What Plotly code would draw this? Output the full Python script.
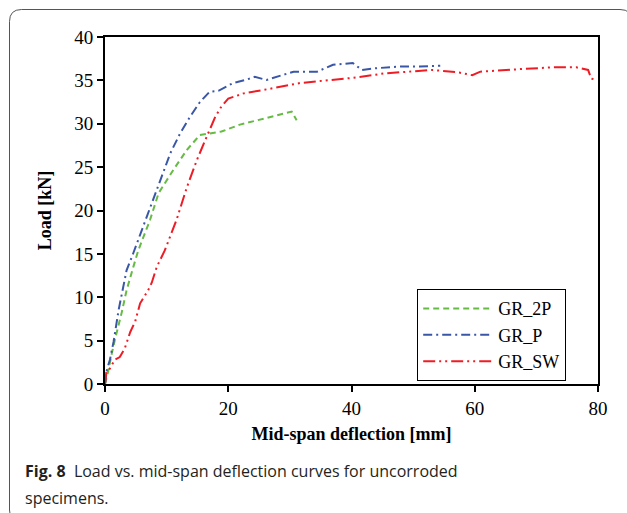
import plotly.graph_objects as go

# GR_2P
x_2p = [0, 0.5, 1.1, 1.6, 2.7, 3.5, 4.6, 5.4, 7.3, 8.7, 11.1, 13.3, 15.4, 17.3, 18.9, 21.9, 25.2, 28.4, 30.3, 31.1]
y_2p = [0, 1.4, 3.5, 5.1, 8.2, 10.8, 13.5, 15.4, 18.9, 22.0, 24.7, 27.0, 28.7, 28.9, 29.1, 29.9, 30.5, 31.0, 31.4, 30.4]
# GR_P
x_p = [0, 0.3, 0.8, 1.4, 2.2, 2.7, 3.5, 4.6, 6.8, 8.1, 9.2, 10.6, 12.2, 13.8, 15.4, 17.0, 18.4, 20.8, 23.0,
       24.3, 26.2, 30.6, 34.4, 37.0, 40.2, 41.7, 44.0, 47.9, 51.1, 54.4]
y_p = [0, 1.6, 2.8, 4.9, 8.5, 10.3, 13.1, 15.1, 19.3, 21.6, 23.9, 26.6, 28.9, 30.8, 32.5, 33.7, 33.8, 34.7, 35.1,
       35.4, 35.05, 36.0, 36.0, 36.8, 37.0, 36.2, 36.4, 36.6, 36.6, 36.7]
# GR_SW
x_sw = [0, 0.2, 0.5, 1.1, 1.6, 2.4, 3.2, 4.1, 4.9, 5.7, 7.0, 7.6, 8.4, 9.7, 11.6, 13.3, 14.9, 16.5, 17.9, 18.9,
        20.0, 22.5, 24.6, 27.3, 31.7, 37.1, 40.3, 45.3, 49.2, 53.1, 56.3, 57.5, 59.6, 60.9, 67.4, 72.6, 76.5,
        78.4, 78.9, 79.7]
y_sw = [0, 1.3, 1.4, 2.2, 2.8, 3.1, 4.1, 6.0, 7.2, 9.3, 10.8, 11.7, 13.5, 15.4, 18.9, 22.7, 25.8, 28.5, 30.8, 32.0,
        32.9, 33.5, 33.8, 34.1, 34.7, 35.1, 35.3, 35.8, 36.0, 36.2, 36.0, 35.9, 35.6, 36.0, 36.3, 36.5, 36.5,
        36.2, 35.2, 35.1]

x_ticks = [0, 20, 40, 60, 80]
y_ticks = [0, 5, 10, 15, 20, 25, 30, 35, 40]

W, H = 627, 513
L, R, T, B = 105, 29, 37, 129
pw, ph = W - L - R, H - T - B

def px(x):
    return (x - L) / pw

def py(y):
    return (H - B - y) / ph

fig = go.Figure()
fig.add_trace(go.Scatter(x=x_2p, y=y_2p, mode="lines", name="GR_2P",
                         line=dict(color="#66bb44", width=2, dash="6px,4px")))
fig.add_trace(go.Scatter(x=x_p, y=y_p, mode="lines", name="GR_P",
                         line=dict(color="#3a57a7", width=2, dash="9px,4px,2px,4px")))
fig.add_trace(go.Scatter(x=x_sw, y=y_sw, mode="lines", name="GR_SW",
                         line=dict(color="#ee1c25", width=2, dash="12px,4px,2px,4px,2px,4px")))

serif = "Liberation Serif, Times New Roman, serif"
axis_common = dict(showline=True, linecolor="black", linewidth=2, mirror=True,
                   ticks="outside", ticklen=6, tickwidth=1.5, tickcolor="black",
                   showgrid=False, zeroline=False,
                   tickfont=dict(family=serif, size=19, color="black"))

fig.update_layout(
    width=W, height=H,
    margin=dict(l=L, r=R, t=T, b=B),
    paper_bgcolor="white", plot_bgcolor="white",
    xaxis=dict(range=[0, 80], tickvals=x_ticks, **axis_common,
               title=dict(text="<b>Mid-span deflection [mm]</b>", font=dict(family=serif, size=18, color="black"),
                          standoff=10)),
    yaxis=dict(range=[0, 40], tickvals=y_ticks, **axis_common,
               title=dict(text="<b>Load [kN]</b>", font=dict(family=serif, size=18, color="black"),
                          standoff=18)),
    legend=dict(x=px(417), y=py(289), xanchor="left", yanchor="top",
                bordercolor="black", borderwidth=1.2, bgcolor="white",
                font=dict(family=serif, size=18, color="black"),
                tracegroupgap=0, itemwidth=70),
    showlegend=True,
)

# outer rounded frame
x0, y0, x1, y1, r = 9.5, 9.5, 632, 522, 12
path = (f"M {px(x0)},{py(y0 + r)} L {px(x0)},{py(y1 - r)} "
        f"Q {px(x0)},{py(y1)} {px(x0 + r)},{py(y1)} L {px(x1 - r)},{py(y1)} "
        f"Q {px(x1)},{py(y1)} {px(x1)},{py(y1 - r)} L {px(x1)},{py(y0 + r)} "
        f"Q {px(x1)},{py(y0)} {px(x1 - r)},{py(y0)} L {px(x0 + r)},{py(y0)} "
        f"Q {px(x0)},{py(y0)} {px(x0)},{py(y0 + r)} Z")
fig.add_shape(type="path", path=path, xref="paper", yref="paper",
              line=dict(color="#555555", width=1), layer="below")

cap_font = dict(family="Open Sans, Noto Sans, sans-serif", size=16, color="#231f20")
fig.add_annotation(x=px(23), y=py(471), xref="paper", yref="paper", xanchor="left", yanchor="middle",
                   text="<b>Fig. 8</b>  Load vs. mid-span deflection curves for uncorroded",
                   showarrow=False, font=cap_font)
fig.add_annotation(x=px(23), y=py(498), xref="paper", yref="paper", xanchor="left", yanchor="middle",
                   text="specimens.", showarrow=False, font=cap_font)

fig.write_html("out.html", config={"displayModeBar": False},
               post_script="document.body.style.margin='0';document.body.style.overflow='hidden';"
                           "document.documentElement.style.overflow='hidden';")
